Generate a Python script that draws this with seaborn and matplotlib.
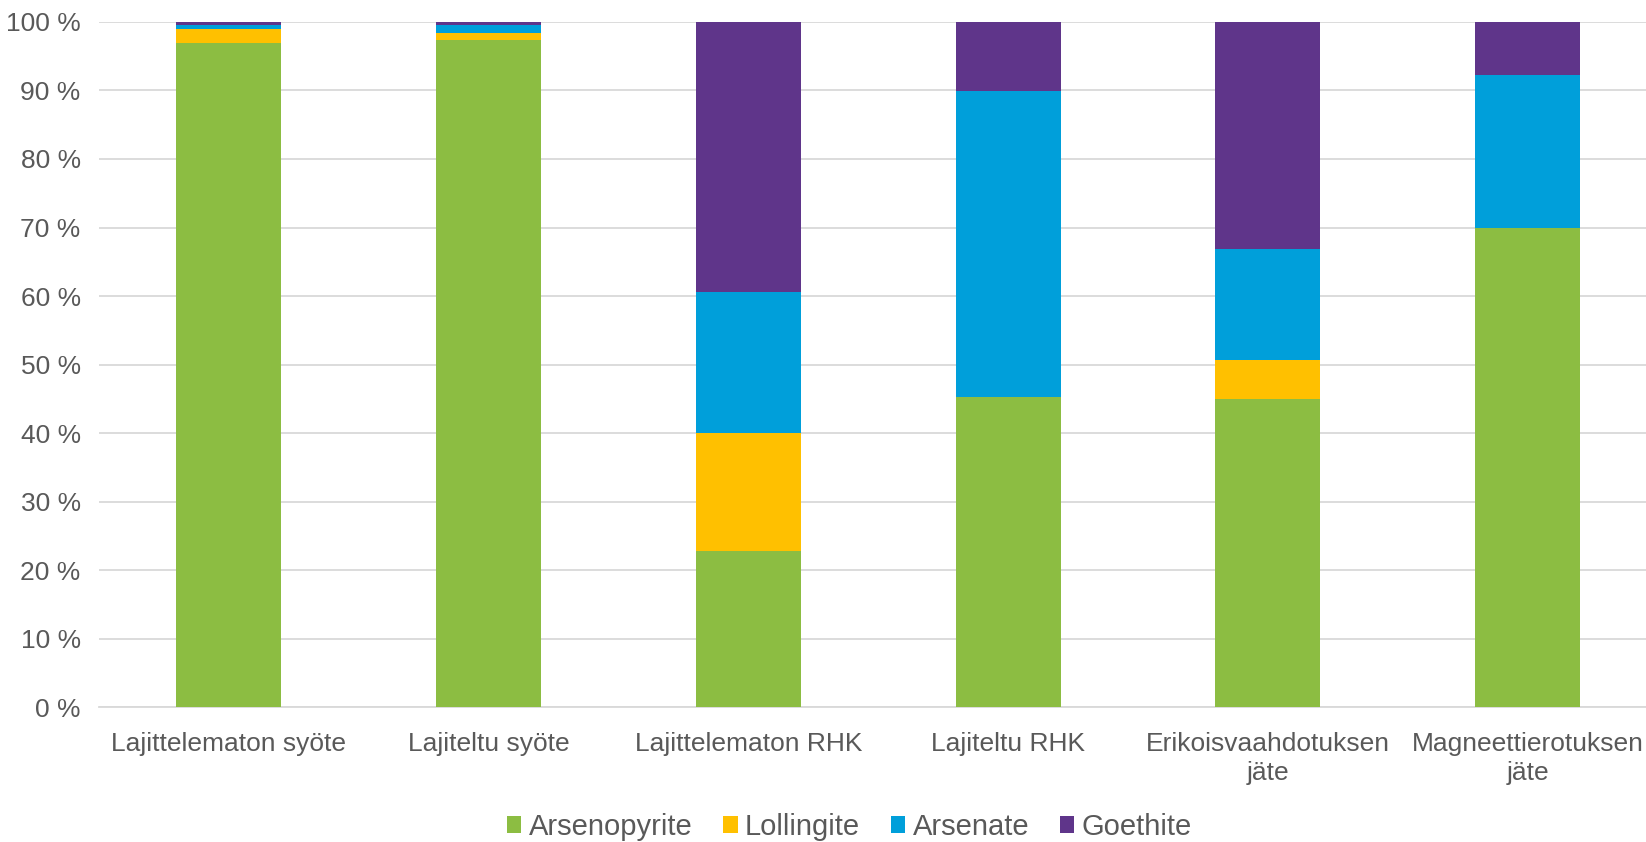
import numpy as np
import pandas as pd
import matplotlib
matplotlib.use("Agg")
import matplotlib.pyplot as plt
from matplotlib.ticker import FuncFormatter
import seaborn as sns

# -------------------------
# Data (percent shares per sample)
# -------------------------
categories = ["Lajittelematon syöte", "Lajiteltu syöte", "Lajittelematon RHK",
              "Lajiteltu RHK", "Erikoisvaahdotuksen\njäte", "Magneettierotuksen\njäte"]
arsenopyrite = [96.9, 97.4, 22.8, 45.2, 45.0, 70.0]
lollingite = [2.1, 1.0, 17.2, 0.0, 5.7, 0.0]
arsenate = [0.6, 1.2, 20.6, 44.7, 16.1, 22.3]
goethite = [0.4, 0.4, 39.4, 10.1, 33.2, 7.7]

series = ["Arsenopyrite", "Lollingite", "Arsenate", "Goethite"]
colors = ["#8cbd42", "#ffc000", "#009fda", "#5f358a"]

df = pd.DataFrame({"Arsenopyrite": arsenopyrite, "Lollingite": lollingite,
                   "Arsenate": arsenate, "Goethite": goethite}, index=categories)

sns.set_style("white")
plt.rcParams["font.family"] = ["Liberation Sans", "DejaVu Sans"]

fig = plt.figure(figsize=(16.46, 8.42), dpi=100)
ax = fig.add_axes([0.060, 0.160, 0.947, 0.814])

# stacked bars, one layer per mineral
bottom = np.zeros(len(categories))
x = np.arange(len(categories))
for name, col in zip(series, colors):
    vals = df[name].values
    ax.bar(x, vals, bottom=bottom, width=0.404, color=col, label=name,
           edgecolor="none", linewidth=0, zorder=3)
    bottom += vals

ax.set_xlim(-0.5, 5.5)
ax.set_ylim(0, 100)
ax.set_yticks(np.arange(0, 101, 10))
ax.yaxis.set_major_formatter(FuncFormatter(lambda v, p: f"{v:.0f} %"))
ax.set_xticks(x)
ax.set_xticklabels(categories)
ax.grid(axis="y", color="#d9d9d9", linewidth=1.3, zorder=0)
ax.tick_params(axis="both", length=0, labelsize=19, colors="#595959")
ax.tick_params(axis="y", pad=13)
ax.tick_params(axis="x", pad=18)
sns.despine(ax=ax, left=True, top=True, right=True)
ax.spines["bottom"].set_color("#d9d9d9")
ax.spines["bottom"].set_linewidth(1.3)
for t in ax.get_xticklabels():
    t.set_linespacing(1.25)

handles, labels = ax.get_legend_handles_labels()
leg = fig.legend(handles, labels, loc="center", bbox_to_anchor=(0.516, 0.018), ncol=4,
                 frameon=False, fontsize=21, handlelength=0.5, handleheight=0.5,
                 handletextpad=0.25, columnspacing=1.05)
for t in leg.get_texts():
    t.set_color("#595959")

fig.savefig("out.png", dpi=100)
